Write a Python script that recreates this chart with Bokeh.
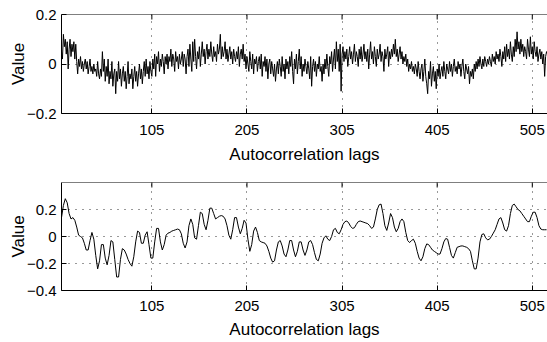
import math
from bokeh.plotting import figure
from bokeh.models import FixedTicker, Range1d, Span
from bokeh.layouts import column
from bokeh.embed import file_html
from bokeh.resources import INLINE

# ---------------- data ----------------
lag_first = 10
lag_last = 521

top_values = [
    0.05, 0.02, 0.12, 0.07, 0.10, 0.04, 0.09, -0.02, 0.06, 0.10, 0.03, 0.08, 0.05, 0.09, 0.02, 0.08,
    0.01, -0.04, 0.02, -0.01, 0.03, -0.02, 0.01, -0.03, 0.00, 0.02, -0.02, 0.01, -0.04, -0.01, 0.02, -0.03,
    -0.01, -0.04, 0.00, -0.03, -0.02, -0.05, 0.01, -0.04, -0.06, -0.02, -0.05, 0.05, -0.03, 0.02, -0.07, -0.01,
    -0.05, 0.02, -0.08, -0.03, -0.06, 0.01, -0.09, -0.04, -0.02, -0.12, -0.03, -0.07, 0.01, -0.06, -0.02, -0.09,
    -0.04, -0.01, -0.07, -0.03, -0.10, -0.05, 0.01, -0.08, -0.04, -0.06, -0.02, -0.10, -0.05, -0.01, -0.07, -0.03,
    -0.09, -0.04, 0.00, -0.06, -0.02, -0.08, -0.03, 0.01, -0.05, 0.02, -0.04, -0.01, -0.06, 0.01, -0.03, -0.05,
    0.02, -0.02, 0.04, -0.05, 0.03, 0.00, 0.05, -0.03, 0.02, -0.01, 0.04, 0.01, -0.04, 0.03, 0.00, 0.04,
    -0.02, 0.03, 0.01, 0.06, -0.01, 0.04, 0.02, -0.03, 0.05, 0.01, 0.03, -0.02, 0.04, 0.00, 0.02, 0.05,
    -0.01, 0.04, 0.02, -0.04, 0.03, 0.06, -0.01, 0.08, 0.02, -0.03, 0.09, 0.01, 0.10, 0.03, -0.02, 0.05,
    0.02, 0.07, -0.01, 0.04, 0.09, 0.03, 0.06, 0.00, 0.05, 0.08, 0.02, 0.06, 0.03, 0.09, 0.04, 0.01,
    0.07, 0.03, 0.05, 0.01, 0.08, 0.04, 0.06, 0.12, 0.02, 0.07, 0.03, 0.05, 0.09, 0.02, 0.06, 0.01,
    0.04, 0.07, 0.02, 0.05, 0.00, 0.06, 0.03, 0.01, 0.05, 0.02, 0.07, -0.01, 0.04, 0.06, 0.02, 0.08,
    0.01, 0.04, -0.02, 0.03, 0.00, -0.03, 0.05, 0.01, -0.02, 0.04, -0.04, 0.02, 0.00, 0.03, -0.03, 0.01,
    0.03, -0.02, 0.04, -0.05, 0.01, -0.01, 0.03, -0.03, 0.02, -0.06, 0.00, 0.02, -0.04, 0.01, -0.02, -0.05,
    0.00, -0.07, -0.02, 0.01, -0.04, 0.02, -0.01, -0.05, 0.03, -0.03, 0.00, -0.06, 0.02, -0.02, 0.01, -0.04,
    0.03, -0.01, 0.05, -0.03, -0.08, 0.02, -0.02, 0.04, -0.04, 0.01, 0.06, -0.02, 0.03, -0.05, 0.00, -0.03,
    0.02, -0.01, -0.04, 0.01, -0.02, -0.06, 0.03, -0.09, -0.01, 0.02, -0.03, 0.01, -0.05, 0.00, -0.02, 0.03,
    -0.03, -0.01, -0.07, 0.00, -0.04, 0.02, -0.02, 0.04, -0.01, -0.05, 0.03, 0.00, 0.05, -0.03, 0.02, 0.06,
    -0.02, 0.09, 0.01, 0.06, -0.03, 0.08, -0.11, 0.04, 0.07, 0.01, 0.05, 0.02, 0.06, -0.01, 0.03, 0.07,
    0.02, 0.05, 0.00, 0.04, 0.08, 0.01, 0.05, 0.03, -0.01, 0.06, 0.02, 0.07, 0.01, 0.04, 0.08, 0.02,
    0.05, 0.01, 0.06, -0.02, 0.04, 0.09, 0.02, 0.05, 0.00, 0.07, 0.03, -0.01, 0.06, 0.02, 0.04, 0.08,
    0.01, 0.05, 0.03, -0.03, 0.06, 0.02, 0.04, 0.07, -0.01, 0.05, 0.02, 0.06, 0.03, 0.08, 0.04, 0.10,
    0.03, 0.06, 0.01, 0.04, 0.07, 0.02, 0.05, 0.00, 0.03, 0.01, 0.04, -0.01, 0.02, -0.03, 0.00, -0.02,
    0.01, -0.03, -0.01, -0.04, 0.00, -0.02, -0.05, 0.01, -0.03, -0.06, -0.02, 0.00, -0.07, -0.03, 0.02, -0.05,
    -0.08, -0.12, -0.03, -0.06, 0.01, -0.09, -0.04, -0.01, -0.07, -0.03, -0.10, -0.02, -0.05, 0.00, -0.06, -0.03,
    -0.01, -0.05, 0.01, -0.03, -0.06, 0.00, -0.02, -0.04, 0.01, -0.03, 0.00, -0.05, -0.01, 0.02, -0.03, -0.01,
    -0.04, 0.01, -0.02, 0.00, -0.05, -0.01, 0.02, -0.03, -0.06, 0.00, -0.02, -0.04, -0.01, -0.08, -0.03, -0.05,
    -0.02, -0.06, 0.00, -0.03, 0.01, -0.02, 0.02, -0.01, 0.03, 0.00, -0.02, 0.02, -0.01, 0.03, 0.01, -0.01,
    0.02, 0.00, 0.03, 0.01, -0.01, 0.04, 0.01, 0.03, 0.00, 0.05, 0.02, 0.04, 0.01, 0.06, 0.03, -0.01,
    0.05, 0.02, 0.07, 0.01, 0.08, 0.03, 0.06, 0.02, 0.09, 0.04, 0.01, 0.07, 0.03, 0.10, 0.05, 0.13,
    0.06, 0.09, 0.04, 0.10, 0.05, 0.08, 0.03, 0.07, 0.05, 0.02, 0.10, 0.06, 0.03, 0.11, 0.04, 0.07,
    0.02, 0.09, 0.05, 0.03, 0.07, 0.01, 0.04, 0.06, 0.02, 0.05, 0.00, 0.04, -0.05, 0.03, 0.05, 0.04,
]
top_lags = list(range(lag_first, lag_first + len(top_values)))

bottom_lags = list(range(10, 521, 2))
bottom_values = [
    0.14, 0.23, 0.28, 0.25, 0.17, 0.13, 0.14, 0.12, 0.07, 0.01, 0.00, -0.01, -0.05, -0.10, -0.10, -0.03,
    0.03, -0.02, -0.14, -0.24, -0.18, -0.06, -0.06, -0.16, -0.21, -0.14, -0.03, -0.04, -0.17, -0.30, -0.30, -0.17,
    -0.09, -0.10, -0.13, -0.17, -0.20, -0.22, -0.15, -0.04, 0.04, 0.03, -0.05, -0.05, 0.01, 0.035, -0.06, -0.16,
    -0.16, -0.04, 0.06, 0.06, -0.04, -0.10, -0.06, 0.01, 0.025, 0.03, 0.04, 0.045, 0.05, 0.055, 0.05, 0.02,
    -0.05, -0.085, -0.04, 0.08, 0.13, 0.09, -0.01, -0.02, 0.08, 0.18, 0.17, 0.09, 0.05, 0.12, 0.21, 0.21,
    0.17, 0.13, 0.14, 0.15, 0.155, 0.15, 0.13, 0.08, 0.01, -0.02, 0.05, 0.14, 0.14, 0.07, 0.02, 0.06,
    0.12, 0.10, -0.02, -0.11, -0.06, 0.04, 0.07, 0.03, -0.03, -0.04, -0.045, -0.05, -0.07, -0.11, -0.16, -0.19,
    -0.18, -0.10, -0.04, -0.03, -0.07, -0.13, -0.15, -0.10, -0.03, -0.03, -0.10, -0.15, -0.11, -0.04, -0.04, -0.10,
    -0.14, -0.10, -0.04, -0.03, -0.06, -0.12, -0.17, -0.18, -0.13, -0.05, -0.01, 0.005, -0.02, -0.03, 0.00, 0.05,
    0.06, 0.03, 0.02, 0.05, 0.09, 0.11, 0.115, 0.10, 0.075, 0.06, 0.065, 0.09, 0.11, 0.115, 0.11, 0.105,
    0.10, 0.095, 0.08, 0.06, 0.07, 0.13, 0.20, 0.235, 0.24, 0.17, 0.08, 0.045, 0.10, 0.17, 0.14, 0.07,
    0.035, 0.06, 0.11, 0.13, 0.11, 0.03, -0.03, -0.045, -0.03, -0.02, -0.05, -0.11, -0.16, -0.18, -0.15, -0.09,
    -0.055, -0.06, -0.08, -0.10, -0.11, -0.12, -0.13, -0.13, -0.09, -0.04, -0.015, -0.02, -0.08, -0.14, -0.16, -0.12,
    -0.08, -0.075, -0.07, -0.07, -0.075, -0.08, -0.09, -0.11, -0.18, -0.24, -0.24, -0.16, -0.04, 0.015, 0.02, -0.01,
    -0.025, -0.02, 0.00, 0.025, 0.05, 0.09, 0.13, 0.14, 0.10, 0.05, 0.04, 0.08, 0.17, 0.23, 0.24, 0.22,
    0.20, 0.19, 0.17, 0.15, 0.13, 0.11, 0.11, 0.15, 0.18, 0.18, 0.14, 0.08, 0.055, 0.05, 0.05, 0.05,
]

x_ticks = [105, 205, 305, 405, 505]
top_y_range = (-0.2, 0.2)
top_y_ticks = [-0.2, 0, 0.2]
top_y_labels = {-0.2: "\u22120.2", 0: "0", 0.2: "0.2"}
bottom_y_range = (-0.4, 0.4)
bottom_y_ticks = [-0.4, -0.2, 0, 0.2]
bottom_y_labels = {-0.4: "\u22120.4", -0.2: "\u22120.2", 0: "0", 0.2: "0.2"}
x_label = "Autocorrelation lags"
y_label = "Value"

FONT = "Liberation Sans"


def make_panel(xs, ys, y_range, y_ticks, y_labels, height, border_top, border_bottom,
               tick_standoff, label_standoff):
    p = figure(width=547, height=height, output_backend="svg", toolbar_location=None,
               x_range=Range1d(lag_first, lag_last), y_range=Range1d(*y_range),
               min_border_left=61, min_border_right=0,
               min_border_top=border_top, min_border_bottom=border_bottom,
               background_fill_color="white", border_fill_color="white")
    p.outline_line_color = None
    # top edge of the box (the right edge lies beyond the picture)
    p.add_layout(Span(location=y_range[1], dimension="width", line_color="black", line_width=1))
    p.line(xs, ys, line_color="black", line_width=1)

    # MATLAB-style inward tick marks on the top edge of the box
    p.scatter(x_ticks, [y_range[1]] * len(x_ticks), marker="dash", angle=math.pi / 2,
              size=10, line_color="black", line_width=1)

    p.xaxis.ticker = FixedTicker(ticks=x_ticks)
    p.yaxis.ticker = FixedTicker(ticks=y_ticks)
    p.yaxis.major_label_overrides = y_labels
    p.xaxis.axis_label = x_label
    p.yaxis.axis_label = y_label
    for ax in (p.xaxis[0], p.yaxis[0]):
        ax.axis_line_color = "black"
        ax.axis_line_width = 1
        ax.major_tick_in = 5
        ax.major_tick_out = 0
        ax.major_tick_line_color = "black"
        ax.minor_tick_line_color = None
        ax.major_label_text_font = FONT
        ax.major_label_text_font_size = "15px"
        ax.major_label_text_color = "black"
        ax.axis_label_text_font = FONT
        ax.axis_label_text_font_size = "17px"
        ax.axis_label_text_font_style = "normal"
        ax.axis_label_text_color = "black"
    p.xaxis.major_label_standoff = tick_standoff
    p.xaxis.axis_label_standoff = label_standoff
    p.yaxis.major_label_standoff = 5
    p.yaxis.axis_label_standoff = -4

    p.xgrid.ticker = FixedTicker(ticks=x_ticks)
    p.ygrid.ticker = FixedTicker(ticks=y_ticks)
    for g in (p.xgrid[0], p.ygrid[0]):
        g.grid_line_color = "black"
        g.grid_line_alpha = 0.8
        g.grid_line_dash = "1 6"
        g.grid_line_width = 1
    return p


p1 = make_panel(top_lags, top_values, top_y_range, top_y_ticks, top_y_labels,
                height=170, border_top=14, border_bottom=57, tick_standoff=11, label_standoff=7)
p2 = make_panel(bottom_lags, bottom_values, bottom_y_range, bottom_y_ticks, bottom_y_labels,
                height=172, border_top=12, border_bottom=52, tick_standoff=10, label_standoff=6)

layout = column(p1, p2, spacing=0)
open("out.html", "w").write(file_html(layout, INLINE))
